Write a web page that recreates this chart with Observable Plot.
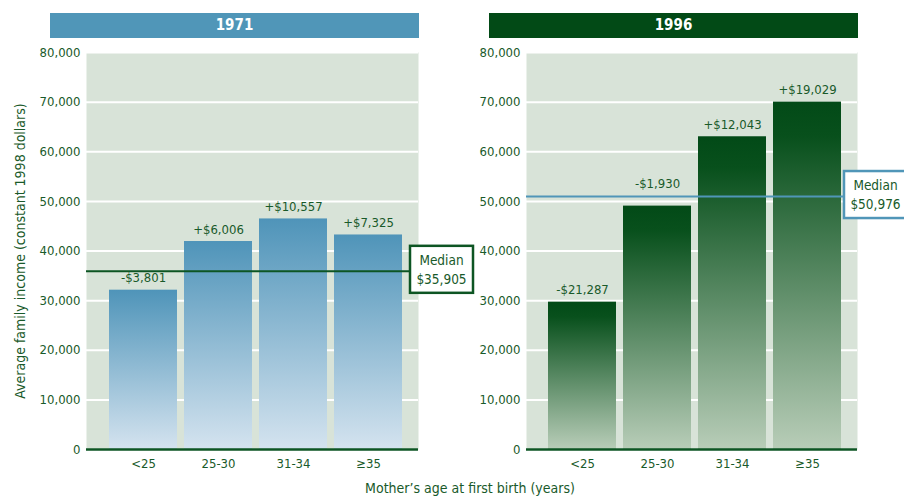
<!DOCTYPE html>
<html>
<head>
<meta charset="utf-8">
<script src="https://cdn.jsdelivr.net/npm/d3@7"></script>
<script src="https://cdn.jsdelivr.net/npm/@observablehq/plot@0.6"></script>
<style>
  html, body { margin: 0; padding: 0; background: #fff; }
  body { width: 904px; height: 497px; overflow: hidden; position: relative;
         font-family: "DejaVu Sans Condensed", "Liberation Sans Narrow", Roboto, sans-serif; }
  .panel { position: absolute; top: 40px; }
  .bar-title { position: absolute; top: 13px; height: 25px; line-height: 25px; color: #fff;
               font-weight: bold; font-size: 15px; text-align: center; }
  .xlabel { position: absolute; top: 480px; left: 0; width: 940px; text-align: center;
            font-size: 14px; color: #195a2a; }
</style>
</head>
<body>
<svg width="0" height="0" style="position:absolute">
  <defs>
    <linearGradient id="gBlue" x1="0" y1="0" x2="0" y2="1">
      <stop offset="0" stop-color="#4f94b9"/>
      <stop offset="1" stop-color="#d4e3ef"/>
    </linearGradient>
    <linearGradient id="gGreen" x1="0" y1="0" x2="0" y2="1">
      <stop offset="0" stop-color="#024a17"/>
      <stop offset="0.1" stop-color="#08501c"/>
      <stop offset="1" stop-color="#b8cdb8"/>
    </linearGradient>
  </defs>
</svg>
<div class="bar-title" style="left:50px;width:369px;background:#5096b8">1971</div>
<div class="bar-title" style="left:489px;width:369px;background:#024a16">1996</div>
<div id="left" class="panel" style="left:0px"></div>
<div id="right" class="panel" style="left:440px"></div>
<div class="xlabel">Mother’s age at first birth (years)</div>
<script>
const ageGroups = ["<25", "25-30", "31-34", "≥35"];
const income1971 = [32104, 41911, 46462, 43230];
const diff1971 = ["-$3,801", "+$6,006", "+$10,557", "+$7,325"];
const median1971 = 35905;
const medianLabel1971 = "$35,905";
const income1996 = [29689, 49046, 63019, 70005];
const diff1996 = ["-$21,287", "-$1,930", "+$12,043", "+$19,029"];
const median1996 = 50976;
const medianLabel1996 = "$50,976";
const yTicks = [0, 10000, 20000, 30000, 40000, 50000, 60000, 70000, 80000];
const yTitle = "Average family income (constant 1998 dollars)";

const textColor = "#195a2a";
const FONT = '"DejaVu Sans Condensed", "Liberation Sans Narrow", Roboto, sans-serif';
const FS = 13;

function medianBox(value, label, color, offset, boxW) {
  return (index, scales, values, dims) => {
    const y = scales.y(value);
    const x0 = dims.width - dims.marginRight - offset;
    const g = d3.create("svg:g");
    g.append("rect").attr("x", x0).attr("y", y - 25).attr("width", boxW).attr("height", 47)
      .attr("fill", "white").attr("stroke", color).attr("stroke-width", 2.5);
    g.append("text").attr("x", x0 + boxW / 2).attr("y", y - 6).attr("text-anchor", "middle")
      .attr("fill", textColor).attr("font-size", FS + 0.5).attr("font-family", FONT).text("Median");
    g.append("text").attr("x", x0 + boxW / 2).attr("y", y + 13).attr("text-anchor", "middle")
      .attr("fill", textColor).attr("font-size", FS + 0.5).attr("font-family", FONT).text(label);
    return g.node();
  };
}

function panel({values, diffs, median, medianLabel, grad, lineColor, boxColor, width, marginRight, boxOffset, boxW, withTitle}) {
  const data = ageGroups.map((g, i) => ({age: g, value: values[i], diff: diffs[i]}));
  // labels that would sit on the median line are lifted above it
  const near = d => d.value < median && (median - d.value) < 3500;
  const marks = [
    Plot.frame({fill: "#d8e3d8", stroke: null}),
    Plot.gridY(yTicks, {stroke: "white", strokeOpacity: 1, strokeWidth: 2}),
    Plot.barY(data, {x: "age", y: "value", fill: grad}),
    Plot.text(data.filter(d => !near(d)), {x: "age", y: "value", text: "diff", dy: -12, fill: textColor, fontSize: FS}),
    Plot.text(data.filter(near), {x: "age", y: "value", text: "diff", dy: -22, fill: textColor, fontSize: FS}),
    Plot.ruleY([0], {stroke: "#0d5523", strokeWidth: 2.5}),
    Plot.ruleY([median], {stroke: lineColor, strokeWidth: 2}),
    medianBox(median, medianLabel, boxColor, boxOffset, boxW),
    Plot.axisY({ticks: yTicks, tickSize: 0, tickPadding: 6, tickFormat: d3.format(","), label: null,
                fontSize: FS, fill: textColor}),
    Plot.axisX({tickSize: 0, tickPadding: 9, label: null, fontSize: FS, fill: textColor})
  ];
  if (withTitle) {
    marks.push(Plot.text([yTitle], {frameAnchor: "left", textAnchor: "middle", rotate: -90, dx: -66,
                                    fill: textColor, fontSize: 14}));
  }
  return Plot.plot({
    width, height: 440,
    marginLeft: 86, marginRight, marginTop: 12, marginBottom: 31,
    style: {fontFamily: FONT, fontSize: FS + "px", color: textColor, background: "transparent", overflow: "visible"},
    x: {domain: ageGroups, type: "band", paddingInner: 0.1, paddingOuter: 0.25, align: 0.58},
    y: {domain: [0, 80000]},
    marks
  });
}

document.getElementById("left").appendChild(panel({
  values: income1971, diffs: diff1971, median: median1971, medianLabel: medianLabel1971,
  grad: "url(#gBlue)", lineColor: "#0d5523", boxColor: "#0d5523",
  width: 480, marginRight: 62, boxOffset: 8, boxW: 63, withTitle: true
}));
document.getElementById("right").appendChild(panel({
  values: income1996, diffs: diff1996, median: median1996, medianLabel: medianLabel1996,
  grad: "url(#gGreen)", lineColor: "#5096b8", boxColor: "#5096b8",
  width: 464, marginRight: 47, boxOffset: 13, boxW: 63, withTitle: false
}));
</script>
</body>
</html>
